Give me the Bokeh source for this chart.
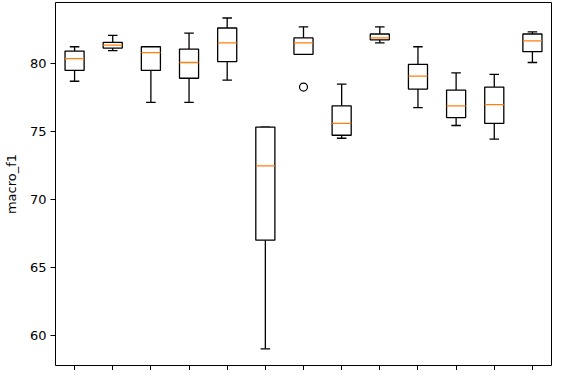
from bokeh.plotting import figure
from bokeh.models import FixedTicker, Range1d
from bokeh.embed import file_html
from bokeh.resources import INLINE

# Box statistics (13 groups)
positions = [1, 2, 3, 4, 5, 6, 7, 8, 9, 10, 11, 12, 13]
whisker_low = [78.72, 80.97, 77.17, 77.17, 78.80, 59.01, 80.70, 74.52, 81.55, 76.77, 75.46, 74.45, 80.10]
q1 = [79.52, 81.16, 79.52, 78.94, 80.17, 67.01, 80.70, 74.74, 81.77, 78.14, 76.04, 75.61, 80.90]
median = [80.39, 81.38, 80.83, 80.10, 81.55, 72.49, 81.55, 75.61, 81.91, 79.09, 76.91, 76.99, 81.70]
q3 = [80.94, 81.59, 81.26, 81.09, 82.64, 75.34, 81.91, 76.91, 82.20, 79.96, 78.07, 78.29, 82.20]
whisker_high = [81.26, 82.10, 81.26, 82.27, 83.38, 75.34, 82.73, 78.51, 82.73, 81.26, 79.33, 79.23, 82.35]
outlier_x = [7]
outlier_y = [78.29]
y_ticks = [60, 65, 70, 75, 80]

BOX_W = 0.5
CAP_W = 0.25
FONT = "DejaVu Sans"

p = figure(frame_width=496, frame_height=363, output_backend="svg", toolbar_location=None,
           x_range=Range1d(0.5, 13.5), y_range=Range1d(57.78, 84.52),
           min_border_left=49, min_border_right=2, min_border_top=2, min_border_bottom=0)
p.grid.visible = False
p.background_fill_color = "white"
p.border_fill_color = "white"
p.outline_line_color = "black"
p.outline_line_alpha = 1
p.outline_line_width = 1

# whiskers
p.segment(x0=positions, y0=q3, x1=positions, y1=whisker_high, line_color="black", line_width=1.3)
p.segment(x0=positions, y0=q1, x1=positions, y1=whisker_low, line_color="black", line_width=1.3)
# caps
cap_l = [x - CAP_W / 2 for x in positions]
cap_r = [x + CAP_W / 2 for x in positions]
p.segment(x0=cap_l, y0=whisker_high, x1=cap_r, y1=whisker_high, line_color="black", line_width=1.3)
p.segment(x0=cap_l, y0=whisker_low, x1=cap_r, y1=whisker_low, line_color="black", line_width=1.3)
# boxes
p.vbar(x=positions, width=BOX_W, bottom=q1, top=q3, fill_color="white", line_color="black", line_width=1.3)
# medians
box_l = [x - BOX_W / 2 for x in positions]
box_r = [x + BOX_W / 2 for x in positions]
p.segment(x0=box_l, y0=median, x1=box_r, y1=median, line_color="#ff7f0e", line_width=1.3)
# outliers
p.scatter(x=outlier_x, y=outlier_y, marker="circle", size=8, fill_color=None, line_color="black", line_width=1.2)

p.yaxis.ticker = FixedTicker(ticks=y_ticks)
p.xaxis.ticker = FixedTicker(ticks=positions)
p.xaxis.major_label_overrides = {x: "" for x in positions}
p.xaxis.major_label_standoff = 0
p.xaxis.major_label_text_font_size = "1px"

for ax in (p.xaxis[0], p.yaxis[0]):
    ax.axis_line_color = None
    ax.major_tick_line_color = "black"
    ax.major_tick_line_width = 1
    ax.major_tick_out = 5
    ax.major_tick_in = 0
    ax.minor_tick_line_color = None

p.yaxis.axis_label = "macro_f1"
p.yaxis.axis_label_text_font = FONT
p.yaxis.axis_label_text_font_style = "normal"
p.yaxis.axis_label_text_font_size = "13px"
p.yaxis.axis_label_text_color = "black"
p.yaxis.axis_label_standoff = 8
p.yaxis.major_label_text_font = FONT
p.yaxis.major_label_text_font_size = "13px"
p.yaxis.major_label_text_color = "black"
p.yaxis.major_label_standoff = 4

open("out.html", "w").write(file_html(p, INLINE))
